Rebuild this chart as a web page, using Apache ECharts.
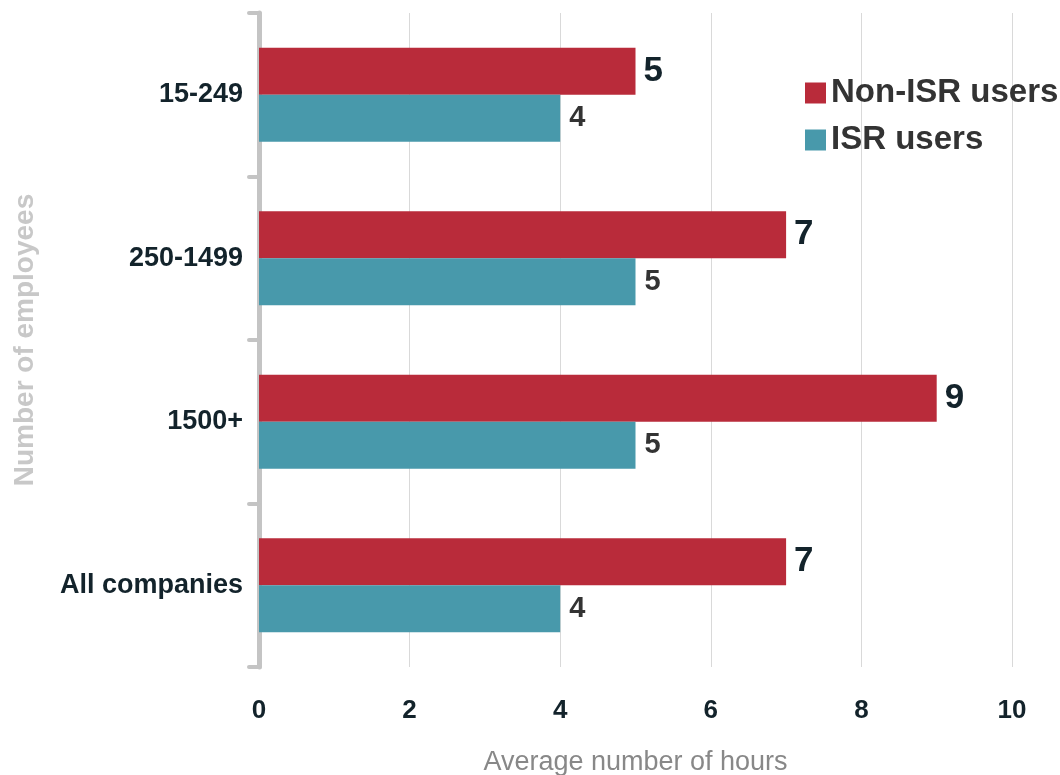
<!DOCTYPE html>
<html>
<head>
<meta charset="utf-8">
<script src="https://cdn.jsdelivr.net/npm/echarts@6/dist/echarts.min.js"></script>
<style>
  html, body { margin: 0; padding: 0; background: #fff; }
  #chart { width: 1060px; height: 775px; }
</style>
</head>
<body>
<div id="chart"></div>
<script>
const categories = ['15-249', '250-1499', '1500+', 'All companies'];
const nonIsrUsers = [5, 7, 9, 7];
const isrUsers = [4, 5, 5, 4];
const xTicks = { min: 0, max: 10, interval: 2 };

const font = '"Liberation Sans", Arial, sans-serif';
const chart = echarts.init(document.getElementById('chart'));

const option = {
  animation: false,
  textStyle: { fontFamily: font },
  grid: {
    left: 259, right: 48, top: 13, height: 654,
    containLabel: false,
    outerBoundsMode: 'none'
  },
  legend: {
    orient: 'vertical',
    left: 800,
    top: 70,
    itemWidth: 21,
    itemHeight: 21,
    itemGap: 11,
    icon: 'rect',
    textStyle: {
      fontSize: 33, fontWeight: 'bold', color: '#333', fontFamily: font,
      lineHeight: 36
    },
    data: ['Non-ISR users', 'ISR users']
  },
  xAxis: {
    type: 'value',
    min: xTicks.min,
    max: xTicks.max,
    interval: xTicks.interval,
    name: 'Average number of hours',
    nameLocation: 'middle',
    nameGap: 82,
    nameTextStyle: { fontSize: 27, color: '#888', fontFamily: font },
    axisLine: { show: false },
    axisTick: { show: false },
    axisLabel: { margin: 31, fontSize: 26, fontWeight: 'bold', color: '#13232b', fontFamily: font },
    splitLine: { lineStyle: { color: '#d9d9d9', width: 1 } }
  },
  yAxis: {
    type: 'category',
    inverse: true,
    data: categories,
    name: 'Number of employees',
    nameLocation: 'middle',
    nameGap: 220,
    nameTextStyle: { fontSize: 28, fontWeight: 'bold', color: '#c8c8c8', fontFamily: font },
    axisLine: { show: true, lineStyle: { color: '#c4c4c4', width: 5, cap: 'round' } },
    axisTick: { show: true, length: 10, lineStyle: { color: '#c4c4c4', width: 4, cap: 'round' } },
    axisLabel: {
      margin: 16, fontSize: 27, fontWeight: 'bold', color: '#13232b', fontFamily: font,
      padding: [8, 0, 0, 0]
    }
  },
  series: [
    {
      name: 'Non-ISR users',
      type: 'bar',
      data: nonIsrUsers,
      barWidth: 47,
      barGap: '0%',
      itemStyle: { color: '#b92b3a' },
      label: {
        show: true, position: 'right', distance: 8,
        fontSize: 35, fontWeight: 'bold', color: '#13232b', fontFamily: font,
        padding: [5, 0, 0, 0]
      }
    },
    {
      name: 'ISR users',
      type: 'bar',
      data: isrUsers,
      barWidth: 47,
      barGap: '0%',
      itemStyle: { color: '#4899ab' },
      label: {
        show: true, position: 'right', distance: 9,
        fontSize: 29, fontWeight: 'bold', color: '#333', fontFamily: font
      }
    }
  ]
};

chart.setOption(option);
</script>
</body>
</html>
